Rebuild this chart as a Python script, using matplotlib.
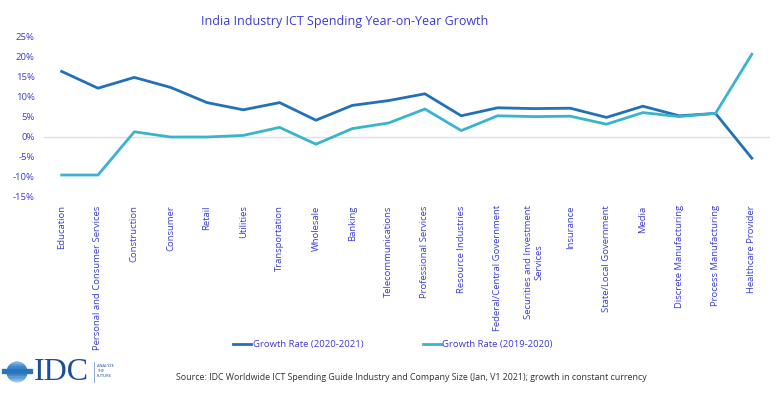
import matplotlib
matplotlib.use("Agg")
import matplotlib.pyplot as plt
from matplotlib.patches import Circle, Rectangle
import numpy as np

plt.rcParams['font.family'] = ['Open Sans', 'DejaVu Sans']

categories = ["Education", "Personal and Consumer Services", "Construction", "Consumer",
              "Retail", "Utilities", "Transportation", "Wholesale", "Banking",
              "Telecommunications", "Professional Services", "Resource Industries",
              "Federal/Central Government", "Securities and Investment\nServices",
              "Insurance", "State/Local Government", "Media", "Discrete Manufacturing",
              "Process Manufacturing", "Healthcare Provider"]
growth_2020_2021 = [16.4, 12.2, 14.9, 12.4, 8.6, 6.8, 8.6, 4.2, 7.9, 9.1, 10.8, 5.3,
                    7.3, 7.1, 7.2, 4.9, 7.7, 5.3, 5.9, -5.3]
growth_2019_2020 = [-9.5, -9.5, 1.3, 0.0, 0.0, 0.4, 2.4, -1.8, 2.1, 3.5, 7.0, 1.6,
                    5.3, 5.1, 5.2, 3.2, 6.1, 5.1, 5.9, 20.7]
yticks = [-15, -10, -5, 0, 5, 10, 15, 20, 25]
series_names = ["Growth Rate (2020-2021)", "Growth Rate (2019-2020)"]

text_blue = "#3b3bd1"
dark_col = "#2271b8"
light_col = "#3ab4cc"

fig = plt.figure(figsize=(7.8, 3.95), dpi=100)
ax = fig.add_axes([43.5/780, 1-197/395, (770-43.5)/780, 160/395])
x = np.arange(len(categories))
l1, = ax.plot(x, growth_2020_2021, color=dark_col, lw=2.0, label=series_names[0], zorder=3)
l2, = ax.plot(x, growth_2019_2020, color=light_col, lw=2.0, label=series_names[1], zorder=3)
ax.axhline(0, color="#dcdcf8", lw=1.0, zorder=1)
ax.set_xlim(-0.5, len(categories)-0.5)
ax.set_ylim(-15, 25)
ax.set_yticks(yticks)
ax.set_yticklabels([f"{v}%" for v in yticks])
ax.set_xticks(x)
ax.set_xticklabels(categories, rotation=90, ha="center", va="top", multialignment="center")
for s in ax.spines.values():
    s.set_visible(False)
ax.tick_params(axis="both", length=0, colors=text_blue, labelsize=6.8)
ax.tick_params(axis="x", pad=6)
ax.tick_params(axis="y", pad=6.4)

fig.text(345/780, 1-22/395, "India Industry ICT Spending Year-on-Year Growth",
         ha="center", va="center", color=text_blue, fontsize=9)

leg = fig.legend(handles=[l1, l2], loc="center", bbox_to_anchor=(393/780, 1-345/395),
                 ncol=2, frameon=False, fontsize=6.8, handlelength=1.9, handletextpad=0.15,
                 columnspacing=6.3)
for t in leg.get_texts():
    t.set_color(text_blue)

fig.text(176/780, 1-377/395,
         "Source: IDC Worldwide ICT Spending Guide Industry and Company Size (Jan, V1 2021); growth in constant currency",
         ha="left", va="center", color="#333333", fontsize=6.4)

# IDC logo
lax = fig.add_axes([0, 1-392/395, 130/780, 35/395])
lax.set_xlim(0, 130)
lax.set_ylim(0, 35)
lax.axis("off")
circ = Circle((17, 20), 10.5, transform=lax.transData)
stripe_cols = ["#7fb2df", "#5c9bd3", "#3d86c8", "#2a74bb", "#2a74bb", "#3d86c8",
               "#5c9bd3", "#7fb2df", "#a6cbea"]
for i, c in enumerate(stripe_cols):
    yy = 29.5 - i * 2.5
    r = Rectangle((2, yy), 30, 1.3, color=c)
    lax.add_patch(r)
    if i not in (3, 4):
        r.set_clip_path(circ)
lax.text(34, 19, "IDC", fontsize=23, family="Liberation Serif", color="#1c4f95",
         va="center", ha="left")
lax.plot([94, 94], [10, 30], color="#7a9cc8", lw=0.6)
lax.text(97, 21, "ANALYZE\nTHE\nFUTURE", fontsize=2.9, color="#1c4f95", va="center",
         ha="left", linespacing=1.3)

fig.savefig("out.png", dpi=100)
